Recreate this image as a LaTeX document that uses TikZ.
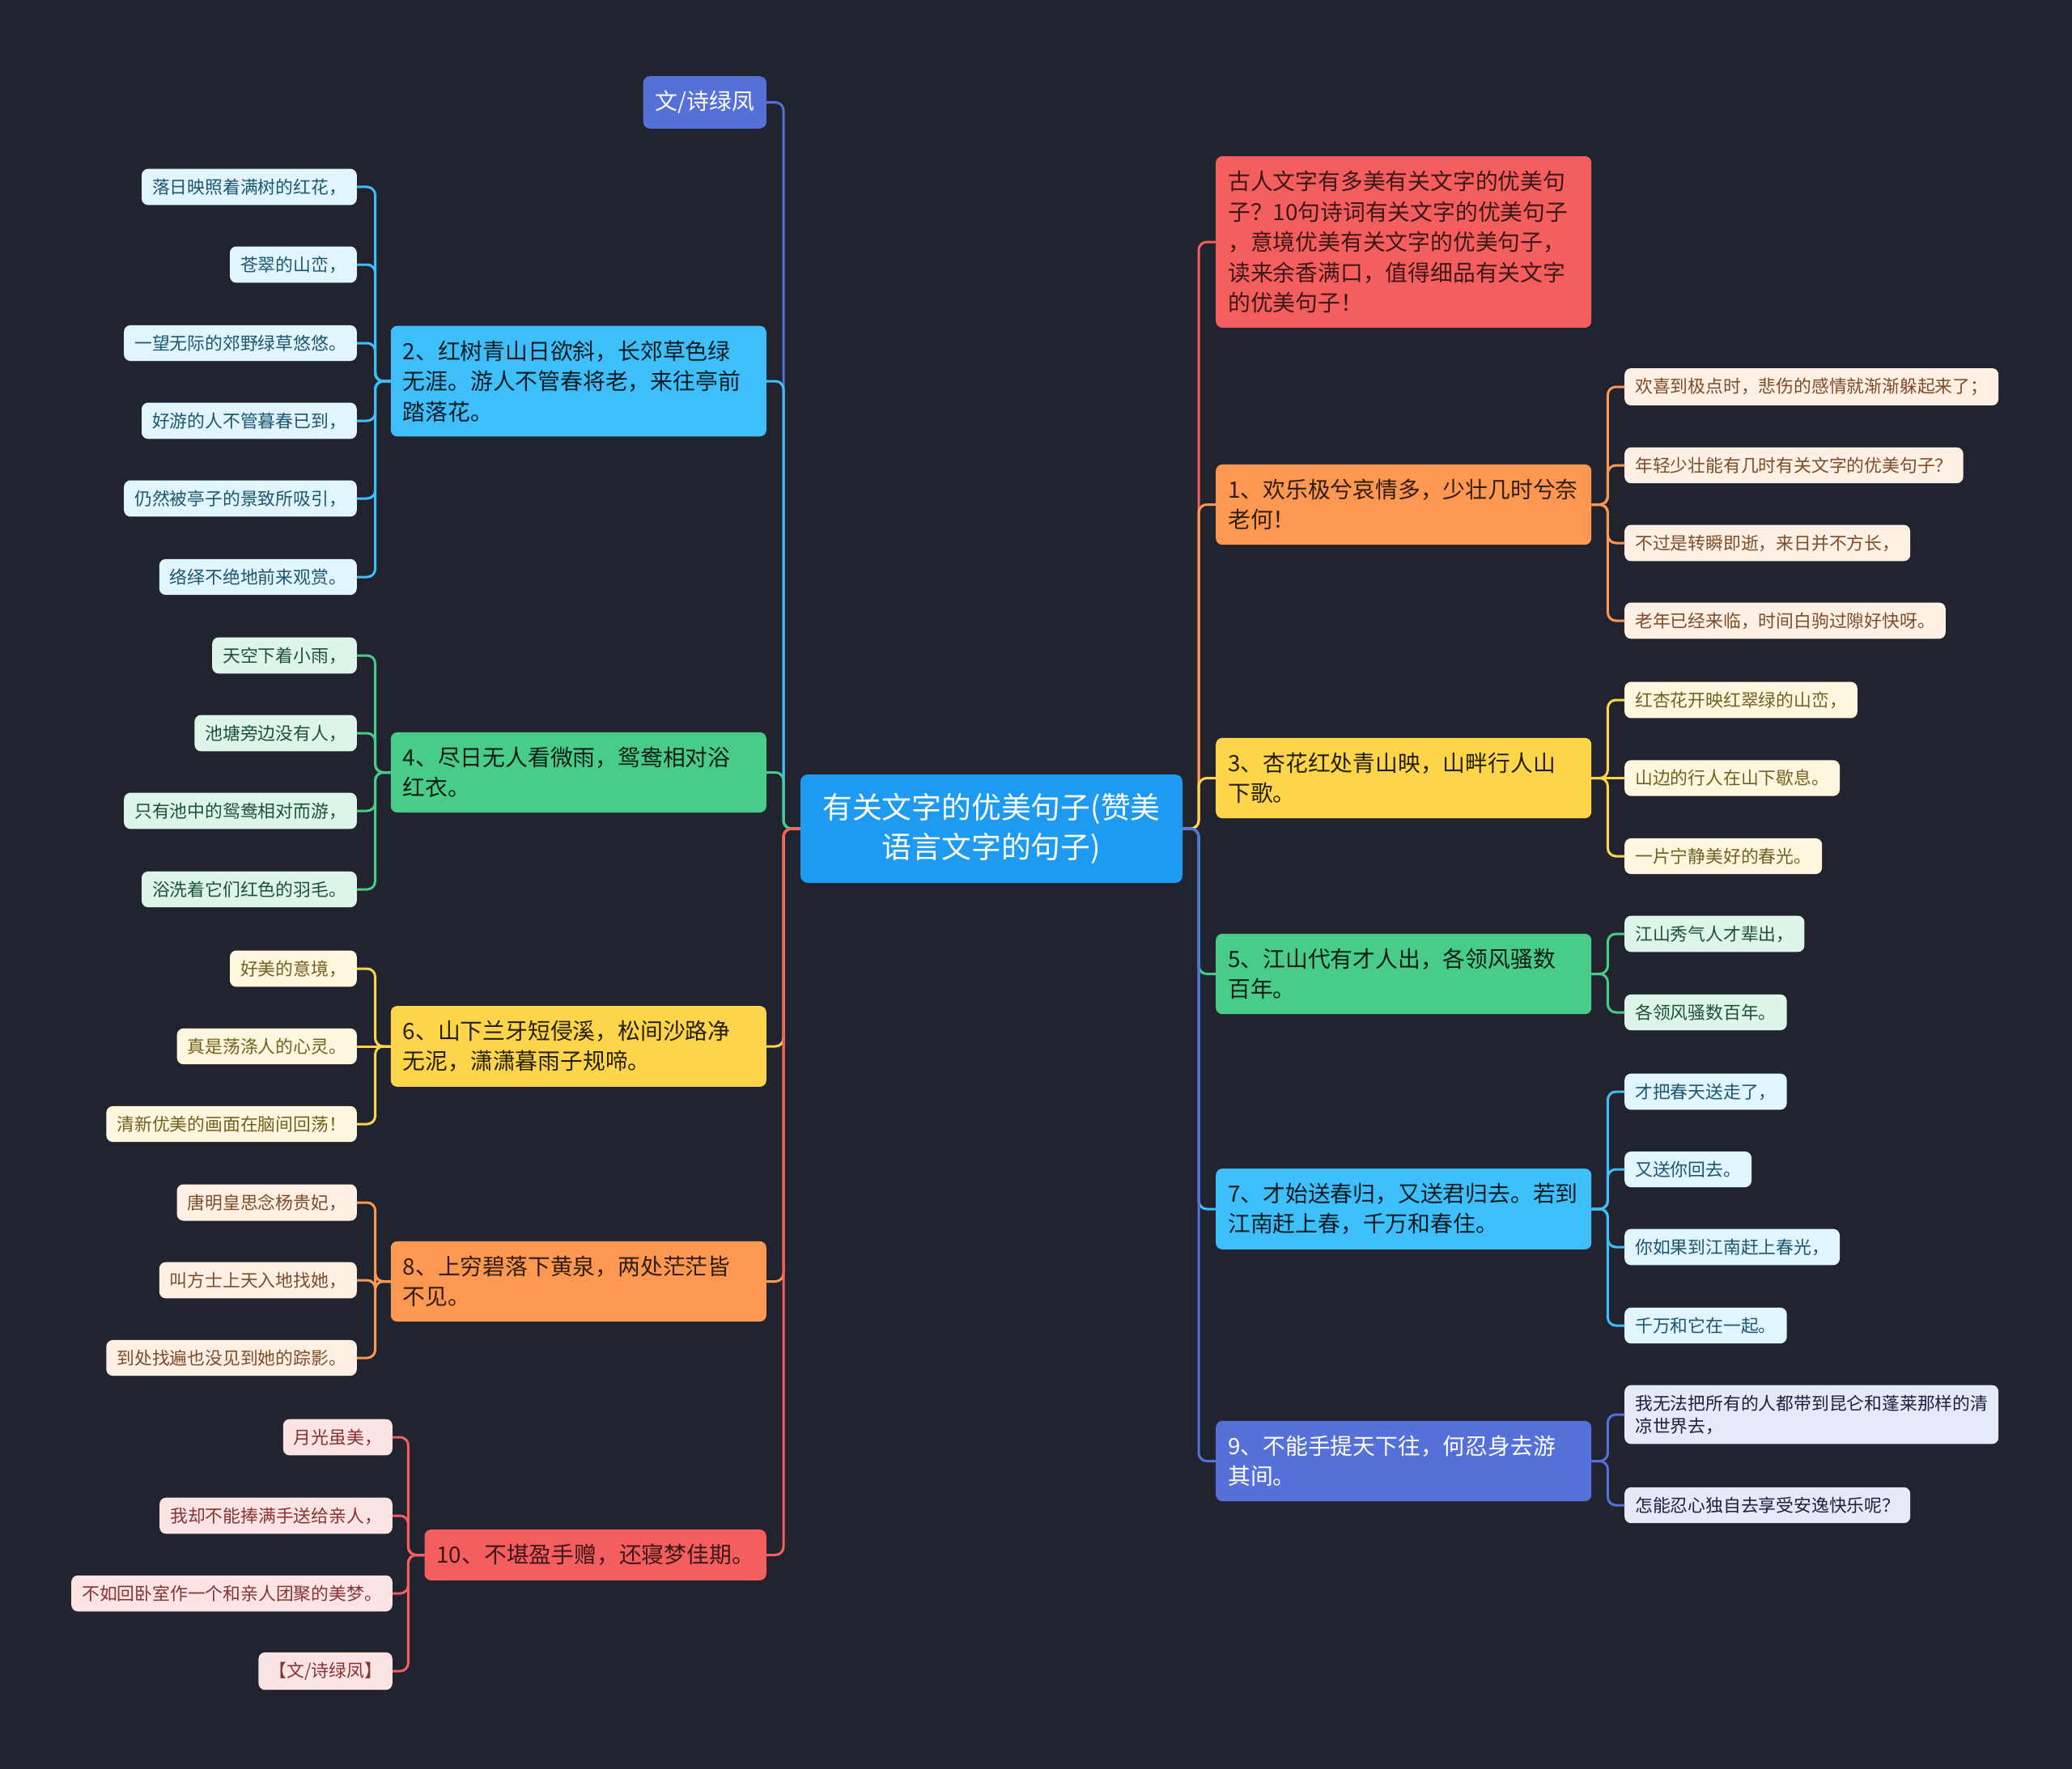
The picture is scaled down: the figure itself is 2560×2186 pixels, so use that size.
\documentclass[tikz,border=0pt]{standalone}
\usepackage{fontspec}
\setmainfont{Noto Sans CJK SC}
\definecolor{sfondo}{HTML}{21242F}
\definecolor{cRad}{HTML}{1E9BF0}
\definecolor{cInd}{HTML}{5570D8}
\definecolor{cAz}{HTML}{3FBFFA}
\definecolor{cVe}{HTML}{49CB8A}
\definecolor{cGi}{HTML}{FDD54A}
\definecolor{cAr}{HTML}{FC9852}
\definecolor{cRo}{HTML}{F45E5E}
\tikzset{
  root/.style  = {rectangle, rounded corners=9pt, fill=cRad, text=white, font=\fontsize{36.8}{49}\selectfont, align=center, minimum width=472pt, minimum height=134pt, inner sep=0},
  topic/.style = {rectangle, rounded corners=8pt, font=\fontsize{27.8}{37.5}\selectfont, align=left, inner xsep=15pt, inner ysep=18pt},
  wide/.style  = {text width=434pt},
  leaf/.style  = {rectangle, rounded corners=8pt, font=\fontsize{21.8}{28}\selectfont, align=left, inner xsep=13pt, inner ysep=12pt},
  link/.style  = {line width=3pt, rounded corners=10pt},
  tInd/.style = {fill=cInd, text=white},      lInd/.style = {fill=cInd!15, text=cInd!30!black},
  tAz/.style  = {fill=cAz, text=cAz!15!black}, lAz/.style  = {fill=cAz!16, text=cAz!45!black},
  tVe/.style  = {fill=cVe, text=cVe!15!black}, lVe/.style  = {fill=cVe!18, text=cVe!40!black},
  tGi/.style  = {fill=cGi, text=cGi!15!black}, lGi/.style  = {fill=cGi!18, text=cGi!45!black},
  tAr/.style  = {fill=cAr, text=cAr!20!black}, lAr/.style  = {fill=cAr!15, text=cAr!50!black},
  tRo/.style  = {fill=cRo, text=cRo!25!black}, lRo/.style  = {fill=cRo!17, text=cRo!55!black}
}
\begin{document}
\begin{tikzpicture}[x=1pt,y=-1pt]
  \fill[sfondo] (0,0) rectangle (2560,2186);
  \node[root] (R) at (1225,1024) {有关文字的优美句子(赞美\\语言文字的句子)};
  \coordinate (sx) at (968,1024);
  \coordinate (dx) at (1481,1024);

  % sinistra
  \node[topic,tInd,anchor=east] (au) at (947,126.5) {文/诗绿凤}; \draw[link,cInd] (R.west) -- (sx) |- (au.east);
  \node[topic,wide,tAz,anchor=east] (b2) at (947,471) {2、红树青山日欲斜，长郊草色绿\\无涯。游人不管春将老，来往亭前\\踏落花。}; \draw[link,cAz] (R.west) -- (sx) |- (b2.east);
  \node[topic,wide,tVe,anchor=east] (b4) at (947,954.5) {4、尽日无人看微雨，鸳鸯相对浴\\红衣。}; \draw[link,cVe] (R.west) -- (sx) |- (b4.east);
  \node[topic,wide,tGi,anchor=east] (b6) at (947,1293) {6、山下兰牙短侵溪，松间沙路净\\无泥，潇潇暮雨子规啼。}; \draw[link,cGi] (R.west) -- (sx) |- (b6.east);
  \node[topic,wide,tAr,anchor=east] (b8) at (947,1583.5) {8、上穷碧落下黄泉，两处茫茫皆\\不见。}; \draw[link,cAr] (R.west) -- (sx) |- (b8.east);
  \node[topic,tRo,anchor=east] (b10) at (947,1921.5) {10、不堪盈手赠，还寝梦佳期。}; \draw[link,cRo] (R.west) -- (sx) |- (b10.east);

  % destra
  \node[topic,wide,tRo,anchor=west] (in) at (1502,299) {古人文字有多美有关文字的优美句\\子？10句诗词有关文字的优美句子\\，意境优美有关文字的优美句子，\\读来余香满口，值得细品有关文字\\的优美句子！}; \draw[link,cRo] (R.east) -- (dx) |- (in.west);
  \node[topic,wide,tAr,anchor=west] (b1) at (1502,623.5) {1、欢乐极兮哀情多，少壮几时兮奈\\老何！}; \draw[link,cAr] (R.east) -- (dx) |- (b1.west);
  \node[topic,wide,tGi,anchor=west] (b3) at (1502,961.5) {3、杏花红处青山映，山畔行人山\\下歌。}; \draw[link,cGi] (R.east) -- (dx) |- (b3.west);
  \node[topic,wide,tVe,anchor=west] (b5) at (1502,1203.5) {5、江山代有才人出，各领风骚数\\百年。}; \draw[link,cVe] (R.east) -- (dx) |- (b5.west);
  \node[topic,wide,tAz,anchor=west] (b7) at (1502,1494) {7、才始送春归，又送君归去。若到\\江南赶上春，千万和春住。}; \draw[link,cAz] (R.east) -- (dx) |- (b7.west);
  \node[topic,wide,tInd,anchor=west] (b9) at (1502,1805.5) {9、不能手提天下往，何忍身去游\\其间。}; \draw[link,cInd] (R.east) -- (dx) |- (b9.west);

  % foglie 2
  \node[leaf,lAz,anchor=east] (f21) at (441,231) {落日映照着满树的红花，}; \draw[link,cAz] (b2.west) -- ++(-19,0) |- (f21.east);
  \node[leaf,lAz,anchor=east] (f22) at (441,327) {苍翠的山峦，}; \draw[link,cAz] (b2.west) -- ++(-19,0) |- (f22.east);
  \node[leaf,lAz,anchor=east] (f23) at (441,424) {一望无际的郊野绿草悠悠。}; \draw[link,cAz] (b2.west) -- ++(-19,0) |- (f23.east);
  \node[leaf,lAz,anchor=east] (f24) at (441,520) {好游的人不管暮春已到，}; \draw[link,cAz] (b2.west) -- ++(-19,0) |- (f24.east);
  \node[leaf,lAz,anchor=east] (f25) at (441,616) {仍然被亭子的景致所吸引，}; \draw[link,cAz] (b2.west) -- ++(-19,0) |- (f25.east);
  \node[leaf,lAz,anchor=east] (f26) at (441,713) {络绎不绝地前来观赏。}; \draw[link,cAz] (b2.west) -- ++(-19,0) |- (f26.east);

  % foglie 4
  \node[leaf,lVe,anchor=east] (f41) at (441,810) {天空下着小雨，}; \draw[link,cVe] (b4.west) -- ++(-19,0) |- (f41.east);
  \node[leaf,lVe,anchor=east] (f42) at (441,906) {池塘旁边没有人，}; \draw[link,cVe] (b4.west) -- ++(-19,0) |- (f42.east);
  \node[leaf,lVe,anchor=east] (f43) at (441,1002) {只有池中的鸳鸯相对而游，}; \draw[link,cVe] (b4.west) -- ++(-19,0) |- (f43.east);
  \node[leaf,lVe,anchor=east] (f44) at (441,1099) {浴洗着它们红色的羽毛。}; \draw[link,cVe] (b4.west) -- ++(-19,0) |- (f44.east);

  % foglie 6
  \node[leaf,lGi,anchor=east] (f61) at (441,1197) {好美的意境，}; \draw[link,cGi] (b6.west) -- ++(-19,0) |- (f61.east);
  \node[leaf,lGi,anchor=east] (f62) at (441,1293) {真是荡涤人的心灵。}; \draw[link,cGi] (b6.west) -- ++(-19,0) -- (f62.east);
  \node[leaf,lGi,anchor=east] (f63) at (441,1389) {清新优美的画面在脑间回荡！}; \draw[link,cGi] (b6.west) -- ++(-19,0) |- (f63.east);

  % foglie 8
  \node[leaf,lAr,anchor=east] (f81) at (441,1486) {唐明皇思念杨贵妃，}; \draw[link,cAr] (b8.west) -- ++(-19,0) |- (f81.east);
  \node[leaf,lAr,anchor=east] (f82) at (441,1582) {叫方士上天入地找她，}; \draw[link,cAr] (b8.west) -- ++(-19,0) |- (f82.east);
  \node[leaf,lAr,anchor=east] (f83) at (441,1678) {到处找遍也没见到她的踪影。}; \draw[link,cAr] (b8.west) -- ++(-19,0) |- (f83.east);

  % foglie 10
  \node[leaf,lRo,anchor=east] (f101) at (485,1776) {月光虽美，}; \draw[link,cRo] (b10.west) -- ++(-20,0) |- (f101.east);
  \node[leaf,lRo,anchor=east] (f102) at (485,1873) {我却不能捧满手送给亲人，}; \draw[link,cRo] (b10.west) -- ++(-20,0) |- (f102.east);
  \node[leaf,lRo,anchor=east] (f103) at (485,1969) {不如回卧室作一个和亲人团聚的美梦。}; \draw[link,cRo] (b10.west) -- ++(-20,0) |- (f103.east);
  \node[leaf,lRo,anchor=east] (f104) at (485,2065) {【文/诗绿凤】}; \draw[link,cRo] (b10.west) -- ++(-20,0) |- (f104.east);

  % foglie 1
  \node[leaf,lAr,anchor=west] (g11) at (2007,478) {欢喜到极点时，悲伤的感情就渐渐躲起来了；}; \draw[link,cAr] (b1.east) -- ++(20,0) |- (g11.west);
  \node[leaf,lAr,anchor=west] (g12) at (2007,575) {年轻少壮能有几时有关文字的优美句子？}; \draw[link,cAr] (b1.east) -- ++(20,0) |- (g12.west);
  \node[leaf,lAr,anchor=west] (g13) at (2007,671) {不过是转瞬即逝，来日并不方长，}; \draw[link,cAr] (b1.east) -- ++(20,0) |- (g13.west);
  \node[leaf,lAr,anchor=west] (g14) at (2007,767) {老年已经来临，时间白驹过隙好快呀。}; \draw[link,cAr] (b1.east) -- ++(20,0) |- (g14.west);

  % foglie 3
  \node[leaf,lGi,anchor=west] (g31) at (2007,865) {红杏花开映红翠绿的山峦，}; \draw[link,cGi] (b3.east) -- ++(20,0) |- (g31.west);
  \node[leaf,lGi,anchor=west] (g32) at (2007,961.5) {山边的行人在山下歇息。}; \draw[link,cGi] (b3.east) -- ++(20,0) -- (g32.west);
  \node[leaf,lGi,anchor=west] (g33) at (2007,1058) {一片宁静美好的春光。}; \draw[link,cGi] (b3.east) -- ++(20,0) |- (g33.west);

  % foglie 5
  \node[leaf,lVe,anchor=west] (g51) at (2007,1154) {江山秀气人才辈出，}; \draw[link,cVe] (b5.east) -- ++(20,0) |- (g51.west);
  \node[leaf,lVe,anchor=west] (g52) at (2007,1251) {各领风骚数百年。}; \draw[link,cVe] (b5.east) -- ++(20,0) |- (g52.west);

  % foglie 7
  \node[leaf,lAz,anchor=west] (g71) at (2007,1349) {才把春天送走了，}; \draw[link,cAz] (b7.east) -- ++(20,0) |- (g71.west);
  \node[leaf,lAz,anchor=west] (g72) at (2007,1445) {又送你回去。}; \draw[link,cAz] (b7.east) -- ++(20,0) |- (g72.west);
  \node[leaf,lAz,anchor=west] (g73) at (2007,1541) {你如果到江南赶上春光，}; \draw[link,cAz] (b7.east) -- ++(20,0) |- (g73.west);
  \node[leaf,lAz,anchor=west] (g74) at (2007,1638) {千万和它在一起。}; \draw[link,cAz] (b7.east) -- ++(20,0) |- (g74.west);

  % foglie 9
  \node[leaf,lInd,anchor=west] (g91) at (2007,1748) {我无法把所有的人都带到昆仑和蓬莱那样的清\\凉世界去，}; \draw[link,cInd] (b9.east) -- ++(20,0) |- (g91.west);
  \node[leaf,lInd,anchor=west] (g92) at (2007,1860) {怎能忍心独自去享受安逸快乐呢？}; \draw[link,cInd] (b9.east) -- ++(20,0) |- (g92.west);
\end{tikzpicture}
\end{document}
